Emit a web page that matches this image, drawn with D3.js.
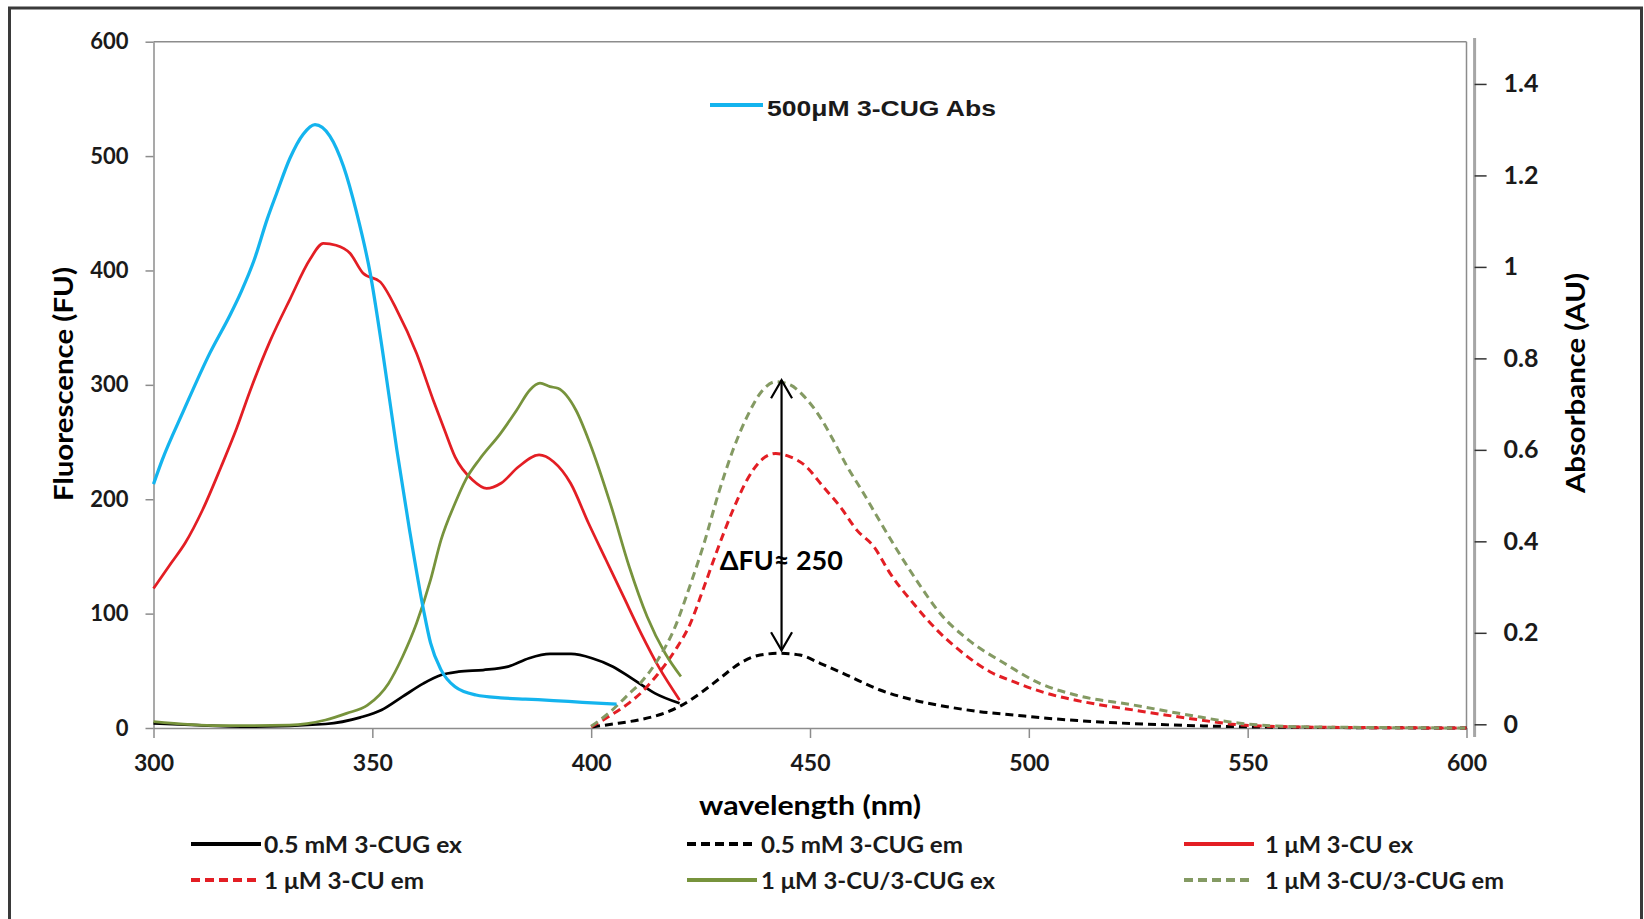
<!DOCTYPE html>
<html><head><meta charset="utf-8">
<script src="https://cdn.jsdelivr.net/npm/d3@7"></script>
<style>
body{margin:0;background:#fff;}
svg{display:block;}
</style></head><body>
<svg id="chart" width="1644" height="919" font-family="Lato, 'Open Sans', sans-serif"></svg>
<script>
// ---------- data ----------
const xTicks = [300, 350, 400, 450, 500, 550, 600];
const yLeftTicks = [0, 100, 200, 300, 400, 500, 600];
const yRightTicks = [0, 0.2, 0.4, 0.6, 0.8, 1, 1.2, 1.4];

// 500 µM 3-CUG absorbance (right axis, AU)
const absWl  = [300, 302, 306.8, 312.9, 317.5, 320, 323, 326, 328.1, 331.2, 334.2, 336.9, 340.3, 343.4, 346.4, 349.5, 352.4, 355.6, 358.5, 361.7, 363.3, 365.7, 368.9, 373.7, 379.3, 385, 391.4, 398, 405.8];
const absVal = [0.525, 0.578, 0.684, 0.812, 0.895, 0.945, 1.015, 1.105, 1.160, 1.238, 1.290, 1.311, 1.286, 1.220, 1.119, 0.987, 0.812, 0.600, 0.425, 0.250, 0.178, 0.119, 0.082, 0.064, 0.058, 0.055, 0.052, 0.048, 0.044];

// 0.5 mM 3-CUG ex
const cugExWl  = [300, 310, 323.2, 339.3, 347.3, 352.1, 356.9, 361.7, 365.7, 369.7, 375.3, 381, 385.8, 390.6, 395.4, 400.2, 405, 409.8, 414.6, 420.2];
const cugExVal = [4, 2.5, 1.2, 3.5, 9.3, 15.7, 27.4, 39, 46.3, 49.2, 50.7, 53.6, 61, 64.7, 64.7, 61, 53.6, 42, 30.3, 21.6];

// 0.5 mM 3-CUG em
const cugEmWl  = [400.2, 405, 411.4, 416, 420.3, 424.9, 429.4, 434, 438.6, 443.1, 447.7, 452.3, 458.4, 466, 473.6, 481.3, 488.8, 496.5, 504.1, 511.7, 520, 530, 540, 550, 565, 580, 600];
const cugEmVal = [1, 3.5, 7.5, 12, 19, 30.3, 43.4, 56.6, 63.8, 65.3, 63.8, 56.6, 46.3, 33.2, 24.5, 18.6, 14.3, 11.4, 8.5, 6.4, 4.5, 3, 1.8, 1, 0.5, 0.2, 0];

// 1 µM 3-CU ex
const cuExWl  = [300, 304, 307.2, 311.2, 315.4, 319, 322, 326.6, 331.2, 335.8, 338.8, 341.7, 344.9, 347.9, 351.8, 355.6, 360.1, 363.9, 366.5, 368.9, 372.9, 376.1, 379.4, 383.4, 388.1, 391.4, 395.3, 399.4, 403.4, 407.4, 411.4, 415.4, 420.2];
const cuExVal = [122, 144, 161.5, 190.6, 228, 262, 294, 338, 375, 410, 423.7, 422, 415, 397.5, 390, 365.4, 327.6, 286.8, 260.5, 237, 216.8, 209.5, 214, 228.4, 238.7, 232.8, 214, 179, 146.9, 114.8, 82.8, 53.6, 24.5];

// 1 µM 3-CU em
const cuEmWl  = [400, 404, 408.7, 412, 415.2, 419.2, 422.5, 425.8, 429.1, 432.4, 435.6, 438.9, 442.2, 445.5, 448.7, 453, 456.9, 460.7, 464.6, 468.3, 473.6, 479, 485, 491.1, 496.5, 504.1, 511.7, 524, 536.4, 548.7, 560, 575, 600];
const cuEmVal = [1, 10, 22, 33, 47, 68, 90, 123.5, 158.5, 190.6, 216.8, 234.3, 240, 237, 230, 211, 193.5, 173, 158.5, 135.2, 109, 85.7, 65.3, 49.2, 40.5, 30.3, 23.5, 15.7, 8.5, 2.6, 1, 0.4, 0];

// 1 µM 3-CU/3-CUG ex
const mixExWl  = [300, 315, 331, 339.3, 344.1, 348.9, 353.7, 356.9, 360.1, 363.3, 365.7, 368.9, 371.3, 374.5, 379.3, 383, 386, 388.3, 390.6, 392.4, 396.5, 399.7, 404.6, 408.7, 412.8, 416.9, 420.5];
const mixExVal = [5.5, 2, 2.6, 7, 12.8, 20, 39, 62.3, 91.5, 129.4, 164.4, 196.5, 216.8, 235, 257.6, 278, 295.5, 301.4, 298.4, 297, 278, 249, 193.5, 141, 97.3, 65.3, 45];

// 1 µM 3-CU/3-CUG em
const mixEmWl  = [400, 404, 408.7, 411.4, 415.2, 419.2, 422.5, 425.8, 429.1, 432.4, 435.6, 438.9, 442.2, 445.5, 448.7, 452, 455.3, 458.5, 461.8, 465.8, 469.9, 474.8, 479.7, 486.2, 494.4, 502.5, 510.7, 524, 536.4, 548.7, 561, 580, 600];
const mixEmVal = [1.5, 13, 30, 40, 59.5, 88.6, 123.5, 161.5, 205.2, 243, 272, 294, 302.8, 299.9, 289.7, 273.6, 251.8, 228.5, 208, 181.8, 155.6, 126.5, 100.3, 77, 56.6, 39, 28.8, 20, 11.4, 4, 1.2, 0.4, 0];

const legendLabels = ['0.5 mM 3-CUG ex', '0.5 mM 3-CUG em', '1 μM 3-CU ex', '1 μM 3-CU em', '1 μM 3-CU/3-CUG ex', '1 μM 3-CU/3-CUG em'];
const absLabel = '500μM 3-CUG Abs';
const annotationText = 'ΔFU≈ 250';
const arrowWl = 443.5, arrowTop = 304, arrowBottom = 68;   // annotation in data units
const annotWl = 429.4, annotFU = 138;

// ---------- layout / styles ----------
const svg = d3.select('#chart');
const x  = d3.scaleLinear().domain([300, 600]).range([153.5, 1466.5]);
const yL = d3.scaleLinear().domain([0, 600]).range([728, 41.7]);
const yR = d3.scaleLinear().domain([0, 1.5]).range([724.3, 38.2]);

const AXIS = '#8c8c8c';
const BLACK = '#000000', RED = '#E31E24', GREEN = '#77933C', GREEN_D = '#849A63', BLUE = '#14B4EE';
const DASH = '8,5';
const FONT = "Lato, 'Open Sans', sans-serif";

// outer frame
svg.append('rect').attr('x', 9.5).attr('y', 8).attr('width', 1632).attr('height', 1000)
  .attr('fill', 'none').attr('stroke', '#3a3a3a').attr('stroke-width', 3);

// plot frame (top/right)
svg.append('line').attr('x1', x(300)).attr('x2', x(600)).attr('y1', yL(600)).attr('y2', yL(600))
  .attr('stroke', AXIS).attr('stroke-width', 1.5);
svg.append('line').attr('x1', x(600)).attr('x2', x(600)).attr('y1', yL(600)).attr('y2', yL(0))
  .attr('stroke', AXIS).attr('stroke-width', 1.5);

// left axis
const gL = svg.append('g').attr('transform', `translate(${x(300)},0)`)
  .call(d3.axisLeft(yL).tickValues(yLeftTicks).tickSize(8).tickSizeOuter(0).tickPadding(17));
// bottom axis
const gB = svg.append('g').attr('transform', `translate(0,${yL(0)})`)
  .call(d3.axisBottom(x).tickValues(xTicks).tickSize(10).tickSizeOuter(0).tickPadding(17));
// right axis
const rightX = 1474.6;
svg.append('line').attr('x1', rightX).attr('x2', rightX).attr('y1', 38).attr('y2', 737)
  .attr('stroke', '#a6a6a6').attr('stroke-width', 3);
const gR = svg.append('g').attr('transform', `translate(${rightX},0)`)
  .call(d3.axisRight(yR).tickValues(yRightTicks).tickSize(12).tickSizeOuter(0).tickPadding(17)
        .tickFormat(d3.format('~g')));
gR.select('.domain').remove();

[gL, gB].forEach(g => {
  g.select('.domain').attr('stroke', AXIS).attr('stroke-width', 1.5);
  g.selectAll('.tick line').attr('stroke', AXIS).attr('stroke-width', 1.5);
});
gR.selectAll('.tick line').attr('stroke', '#333').attr('stroke-width', 1.5);
[gL, gB, gR].forEach(g => g.attr('font-family', FONT));
gL.selectAll('text').attr('font-size', 22).attr('font-weight', 700).attr('fill', '#1a1a1a');
gB.selectAll('text').attr('font-size', 23).attr('font-weight', 700).attr('fill', '#1a1a1a');
gR.selectAll('text').attr('font-size', 25).attr('font-weight', 700).attr('fill', '#1a1a1a');

// axis titles
svg.append('text').attr('transform', 'translate(73,384) rotate(-90)').attr('text-anchor', 'middle')
  .attr('font-size', 27).attr('font-weight', 700).attr('textLength', 234).attr('lengthAdjust', 'spacingAndGlyphs')
  .text('Fluorescence (FU)');
svg.append('text').attr('transform', 'translate(1585,383) rotate(-90)').attr('text-anchor', 'middle')
  .attr('font-size', 27).attr('font-weight', 700).attr('textLength', 220).attr('lengthAdjust', 'spacingAndGlyphs')
  .text('Absorbance (AU)');
svg.append('text').attr('x', 810).attr('y', 815).attr('text-anchor', 'middle')
  .attr('font-size', 27).attr('font-weight', 700).attr('textLength', 222).attr('lengthAdjust', 'spacingAndGlyphs')
  .text('wavelength (nm)');

// ---------- series ----------
const series = [
  {wl: cugExWl, val: cugExVal, color: BLACK,   dash: null, axis: yL},
  {wl: cugEmWl, val: cugEmVal, color: BLACK,   dash: DASH, axis: yL},
  {wl: cuExWl,  val: cuExVal,  color: RED,     dash: null, axis: yL},
  {wl: cuEmWl,  val: cuEmVal,  color: RED,     dash: DASH, axis: yL},
  {wl: mixExWl, val: mixExVal, color: GREEN,   dash: null, axis: yL},
  {wl: mixEmWl, val: mixEmVal, color: GREEN_D, dash: DASH, axis: yL},
  {wl: absWl,   val: absVal,   color: BLUE,    dash: null, axis: yR, width: 3.25}
];
series.forEach(s => {
  const pts = s.wl.map((w, i) => [w, s.val[i]]);
  const line = d3.line().x(d => x(d[0])).y(d => s.axis(d[1])).curve(d3.curveMonotoneX);
  svg.append('path').attr('d', line(pts)).attr('fill', 'none')
    .attr('stroke', s.color).attr('stroke-width', s.width || (s.dash ? 3 : 2.75))
    .attr('stroke-dasharray', s.dash).attr('stroke-linejoin', 'round');
});

// ---------- annotation ----------
const ax = x(arrowWl), at = yL(arrowTop), ab = yL(arrowBottom);
svg.append('line').attr('x1', ax).attr('x2', ax).attr('y1', at).attr('y2', ab)
  .attr('stroke', '#000').attr('stroke-width', 2.2);
svg.append('path').attr('d', `M${ax - 10.5},${at + 18}L${ax},${at}L${ax + 10.5},${at + 18}`)
  .attr('fill', 'none').attr('stroke', '#000').attr('stroke-width', 2.2);
svg.append('path').attr('d', `M${ax - 10.5},${ab - 18}L${ax},${ab}L${ax + 10.5},${ab - 18}`)
  .attr('fill', 'none').attr('stroke', '#000').attr('stroke-width', 2.2);
svg.append('text').attr('x', x(annotWl)).attr('y', yL(annotFU)).attr('font-size', 26).attr('font-weight', 700)
  .attr('textLength', 123).attr('lengthAdjust', 'spacingAndGlyphs').text(annotationText);

// ---------- legends ----------
// top legend (absorbance)
svg.append('line').attr('x1', 710).attr('x2', 763).attr('y1', 105).attr('y2', 105)
  .attr('stroke', BLUE).attr('stroke-width', 4);
svg.append('text').attr('x', 767).attr('y', 116).attr('font-family', "'Liberation Sans', Arial, sans-serif")
  .attr('font-size', 22).attr('font-weight', 700).attr('fill', '#1a1a1a')
  .attr('textLength', 229).attr('lengthAdjust', 'spacingAndGlyphs').text(absLabel);

// bottom legend
const legCols = [191, 687, 1184];
const legTextX = [264, 761, 1265];
const legRows = [844, 880];
const legTextLen = [198, 202, 148, 160, 234, 239];
legendLabels.forEach((lab, i) => {
  const s = series[i];
  const c = i % 3, r = Math.floor(i / 3);
  svg.append('line').attr('x1', legCols[c]).attr('x2', legCols[c] + 70)
    .attr('y1', legRows[r]).attr('y2', legRows[r])
    .attr('stroke', s.color).attr('stroke-width', 4).attr('stroke-dasharray', s.dash ? '9,5' : null);
  svg.append('text').attr('x', legTextX[c]).attr('y', legRows[r] + 8.5)
    .attr('font-size', 23).attr('font-weight', 700).attr('fill', '#1a1a1a')
    .attr('textLength', legTextLen[i]).attr('lengthAdjust', 'spacingAndGlyphs').text(lab);
});
</script>
</body></html>
